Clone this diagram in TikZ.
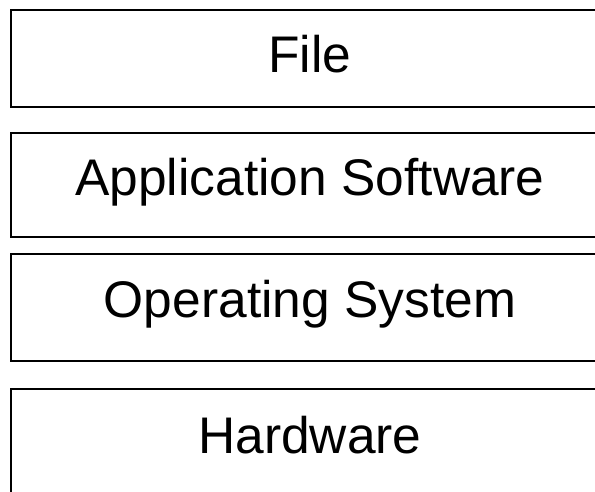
\documentclass[tikz,border=0pt]{standalone}
\usepackage{fontspec}
\setmainfont{Liberation Sans}
\usetikzlibrary{positioning}
\tikzset{
  layerline/.style={draw=black,line width=2pt},
  layerfont/.style={font=\fontsize{51.5}{60}\selectfont,anchor=base,inner sep=0pt},
}
% one layer of the stack: name, top, bottom, baseline, label
\newcommand{\layer}[5]{%
  \draw[layerline] (11.3,#2) rectangle (609,#3);
  \node[layerfont] (#1) at (310,#4) {#5};}

\begin{document}
\begin{tikzpicture}[x=1pt,y=-1pt]
        \useasboundingbox[fill=white] (0,0) rectangle (595,492);
        \clip (0,0) rectangle (595,492);
        \layer{file}{10}{107.5}{72.7}{File}
        \layer{app}{133.5}{237}{195.5}{Application Software}
        \layer{os}{254}{361}{317.5}{Operating System}
        \layer{hw}{389}{500}{453.3}{Hardware}
      \end{tikzpicture}
\end{document}
